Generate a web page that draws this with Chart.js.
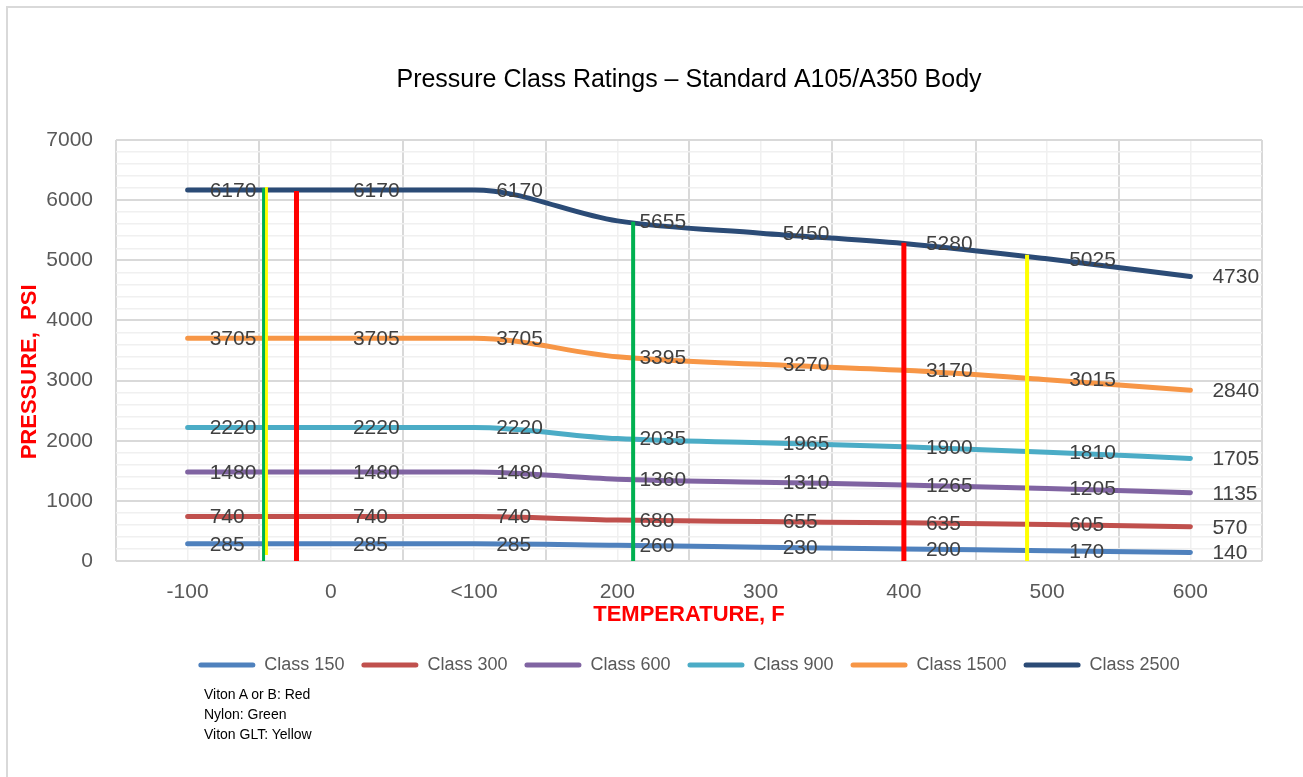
<!DOCTYPE html>
<html>
<head>
<meta charset="utf-8">
<title>Pressure Class Ratings</title>
<script src="https://cdn.jsdelivr.net/npm/chart.js@4"></script>
<style>
  body { margin: 0; background: #fff; overflow: hidden; }
  #frame { position: absolute; left: 6px; top: 6px; width: 1400px; height: 900px; border: 2px solid #d9d9d9; }
  #chart { position: absolute; left: 0; top: 0; }
  #notes { position: absolute; left: 204px; top: 684px; font: 14px/20px "Liberation Sans", Arial, sans-serif; color: #000; }
</style>
</head>
<body>
<div id="frame"></div>
<canvas id="chart" width="1303" height="777"></canvas>
<div id="notes">Viton A or B: Red<br>Nylon: Green<br>Viton GLT: Yellow</div>
<script>
const temps = ["-100", "0", "<100", "200", "300", "400", "500", "600"]

const class150 = [285, 285, 285, 260, 230, 200, 170, 140]
const class300 = [740, 740, 740, 680, 655, 635, 605, 570]
const class600 = [1480, 1480, 1480, 1360, 1310, 1265, 1205, 1135]
const class900 = [2220, 2220, 2220, 2035, 1965, 1900, 1810, 1705]
const class1500 = [3705, 3705, 3705, 3395, 3270, 3170, 3015, 2840]
const class2500 = [6170, 6170, 6170, 5655, 5450, 5280, 5025, 4730]

const seriesNames = ["Class 150", "Class 300", "Class 600", "Class 900", "Class 1500", "Class 2500"]
const seriesValues = [class150, class300, class600, class900, class1500, class2500]
const seriesColors = ["#4f81bd", "#c0504d", "#8064a2", "#4bacc6", "#f79646", "#2b4b76"]

// seal limit markers, x measured in category steps (0 = "-100", 1 = "0", ...)
const vitonX = [0.76, 5.0]
const vitonBottom = [0, 0]
const vitonTop = [6150, 5290]
const nylonX = [0.53, 3.11]
const nylonBottom = [0, 0]
const nylonTop = [6200, 5640]
const gltX = [0.55, 5.86]
const gltBottom = [100, 0]
const gltTop = [6220, 5090]

const FONT = "'Liberation Sans', Arial, sans-serif"

function markerSet(x, bottom, top, color, width) {
  return {
    label: "marker",
    xAxisID: "x2",
    data: [{ x: x, y: bottom }, { x: x, y: top }],
    borderColor: color,
    borderWidth: width,
    borderCapStyle: "butt",
    pointRadius: 0,
    fill: false,
    order: -1
  }
}

const datasets = seriesNames.map(function(name, i) {
  return {
    label: name,
    data: seriesValues[i],
    borderColor: seriesColors[i],
    backgroundColor: seriesColors[i],
    borderWidth: 5,
    borderCapStyle: "round",
    pointRadius: 0,
    cubicInterpolationMode: "monotone",
    fill: false
  }
})

datasets.push(markerSet(nylonX[0], nylonBottom[0], nylonTop[0], "#00b050", 3))
datasets.push(markerSet(gltX[0], gltBottom[0], gltTop[0], "#ffff00", 3))
datasets.push(markerSet(vitonX[0], vitonBottom[0], vitonTop[0], "#ff0000", 5))
datasets.push(markerSet(nylonX[1], nylonBottom[1], nylonTop[1], "#00b050", 4))
datasets.push(markerSet(vitonX[1], vitonBottom[1], vitonTop[1], "#ff0000", 5))
datasets.push(markerSet(gltX[1], gltBottom[1], gltTop[1], "#ffff00", 4))

// value labels to the right of each point
const pointLabels = {
  id: "pointLabels",
  afterDatasetsDraw: function(chart) {
    const ctx = chart.ctx
    ctx.save()
    ctx.font = "21px " + FONT
    ctx.fillStyle = "#404040"
    ctx.textAlign = "left"
    ctx.textBaseline = "middle"
    seriesNames.forEach(function(name, i) {
      chart.getDatasetMeta(i).data.forEach(function(pt, j) {
        ctx.fillText(String(seriesValues[i][j]), pt.x + 22, pt.y + 1)
      })
    })
    ctx.restore()
  }
}

new Chart(document.getElementById("chart"), {
  type: "line",
  data: { labels: temps, datasets: datasets },
  options: {
    responsive: false,
    animation: false,
    devicePixelRatio: 1,
    layout: { padding: { left: 0, right: 41, top: 0, bottom: 93 } },
    plugins: {
      title: {
        display: true,
        text: "Pressure Class Ratings \u2013 Standard A105/A350 Body",
        color: "#000",
        font: { family: FONT, size: 25, weight: "normal" },
        padding: { top: 65, bottom: 45 },
        fullSize: false
      },
      legend: {
        position: "bottom",
        fullSize: false,
        labels: {
          color: "#595959",
          font: { family: FONT, size: 18 },
          boxWidth: 57,
          boxHeight: 5,
          padding: 17,
          useBorderRadius: true,
          borderRadius: 2.5,
          filter: function(item) { return item.datasetIndex < seriesNames.length },
          generateLabels: function(chart) {
            const items = Chart.defaults.plugins.legend.labels.generateLabels(chart)
            items.forEach(function(item) {
              item.fillStyle = seriesColors[item.datasetIndex] || item.fillStyle
              item.lineWidth = 0
            })
            return items
          }
        }
      },
      tooltip: { enabled: false }
    },
    scales: {
      x: {
        type: "category",
        offset: true,
        grid: { display: false },
        border: { display: false },
        ticks: { color: "#595959", font: { family: FONT, size: 21 }, padding: 11 },
        title: {
          display: true,
          text: "TEMPERATURE, F",
          color: "#ff0000",
          font: { family: FONT, size: 22, weight: "bold" },
          padding: { top: 0, bottom: 11 }
        },
        afterFit: function(scale) { scale.height = 78 }
      },
      x2: {
        type: "linear",
        position: "top",
        min: -0.5,
        max: 7.5,
        ticks: { display: false, stepSize: 0.5 },
        grid: {
          drawTicks: false,
          color: function(c) { return Number.isInteger(c.tick.value) ? "#f0f0f0" : "#d9d9d9" },
          lineWidth: function(c) { return Number.isInteger(c.tick.value) ? 1.5 : 2 }
        },
        border: { display: false },
        afterFit: function(scale) { scale.height = 0 }
      },
      y: {
        min: 0,
        max: 7000,
        border: { display: false },
        grid: {
          drawTicks: false,
          color: function(c) { return c.tick.value % 1000 === 0 ? "#d9d9d9" : "#f0f0f0" },
          lineWidth: function(c) { return c.tick.value % 1000 === 0 ? 2 : 1.5 }
        },
        ticks: {
          stepSize: 200,
          autoSkip: false,
          padding: 23,
          color: "#595959",
          font: { family: FONT, size: 21 },
          callback: function(v) { return v % 1000 === 0 ? v : "" }
        },
        title: {
          display: true,
          // trailing spaces push the rotated text down, as in the original
          text: "PRESSURE,  PSI       ",
          color: "#ff0000",
          font: { family: FONT, size: 22, weight: "bold" },
          padding: { top: 17, bottom: 0 }
        },
        afterFit: function(scale) { scale.width = 116 }
      }
    }
  },
  plugins: [pointLabels]
})
</script>
</body>
</html>
